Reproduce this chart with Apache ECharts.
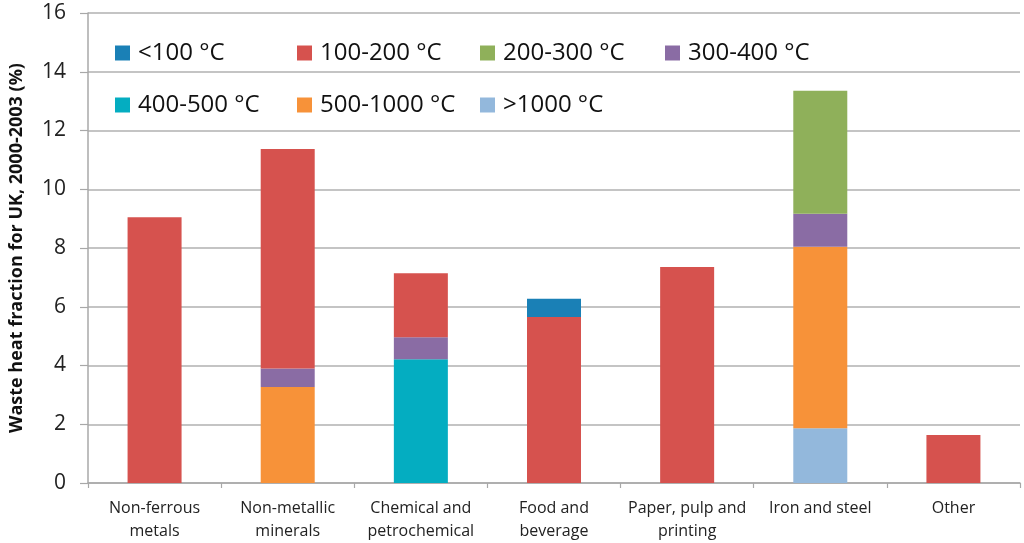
<!DOCTYPE html>
<html><head><meta charset="utf-8">
<script src="https://cdn.jsdelivr.net/npm/echarts@6/dist/echarts.min.js"></script>
<style>html,body{margin:0;padding:0;background:#fff}#c{width:1024px;height:543px}</style>
</head><body><div id="c"></div>
<script>
const categories = ['Non-ferrous\nmetals','Non-metallic\nminerals','Chemical and\npetrochemical','Food and\nbeverage','Paper, pulp and\nprinting','Iron and steel','Other'];
const yTicks = [0,2,4,6,8,10,12,14,16];
// stacking order bottom -> top
const above1000 = [0, 0, 0, 0, 0, 1.86, 0];
const t500_1000 = [0, 3.27, 0, 0, 0, 6.18, 0];
const t400_500  = [0, 0, 4.21, 0, 0, 0, 0];
const t300_400  = [0, 0.63, 0.75, 0, 0, 1.13, 0];
const t200_300  = [0, 0, 0, 0, 0, 4.18, 0];
const t100_200  = [9.05, 7.47, 2.18, 5.65, 7.35, 0, 1.63];
const below100  = [0, 0, 0, 0.62, 0, 0, 0];

const seriesDefs = [
  {name: '>1000 °C', data: above1000, color: '#93b8dc'},
  {name: '500-1000 °C', data: t500_1000, color: '#f79239'},
  {name: '400-500 °C', data: t400_500, color: '#04adc1'},
  {name: '300-400 °C', data: t300_400, color: '#8a6ca4'},
  {name: '200-300 °C', data: t200_300, color: '#8fb05a'},
  {name: '100-200 °C', data: t100_200, color: '#d6524e'},
  {name: '<100 °C', data: below100, color: '#1a80b6'}
];
const legendPos = {
  '<100 °C': [115, 41], '100-200 °C': [297, 41], '200-300 °C': [480, 41], '300-400 °C': [665, 41],
  '400-500 °C': [115, 93], '500-1000 °C': [297, 93], '>1000 °C': [480, 93]
};
const FONT = '"Open Sans", sans-serif';
const chart = echarts.init(document.getElementById('c'), null, {renderer: 'canvas'});
const legends = Object.keys(legendPos).map(n => ({
  data: [n], left: legendPos[n][0], top: legendPos[n][1],
  itemWidth: 15, itemHeight: 15, icon: 'rect', padding: 0, itemGap: 0,
  selectedMode: false,
  textStyle: {fontFamily: FONT, fontSize: 24, color: '#111', padding: [0, 0, 0, 3]}
}));
chart.setOption({
  animation: false,
  backgroundColor: '#fff',
  legend: legends,
  grid: {left: 86, right: 4, top: 13, bottom: 58, containLabel: false},
  xAxis: {
    type: 'category', data: categories,
    axisLine: {lineStyle: {color: '#a8a8a8', width: 1.5}},
    axisTick: {show: true, length: 5, lineStyle: {color: '#a8a8a8', width: 1.2}},
    axisLabel: {fontFamily: FONT, fontSize: 16, color: '#222', lineHeight: 23, margin: 14, interval: 0}
  },
  yAxis: {
    type: 'value', min: yTicks[0], max: yTicks[yTicks.length-1], interval: 2,
    name: 'Waste heat fraction for UK, 2000-2003 (%)', nameLocation: 'middle', nameGap: 62, nameRotate: 90,
    nameTextStyle: {fontFamily: FONT, fontSize: 18, fontWeight: 'bold', color: '#111'},
    axisLine: {show: true, lineStyle: {color: '#a8a8a8', width: 1.5}},
    axisTick: {show: true, length: 8, lineStyle: {color: '#a8a8a8', width: 1.2}},
    axisLabel: {fontFamily: FONT, fontSize: 21, color: '#222', margin: 22},
    splitLine: {lineStyle: {color: '#b0b0b0', width: 1.5}}
  },
  series: seriesDefs.map(s => ({
    name: s.name, type: 'bar', stack: 'all', data: s.data, barWidth: 54,
    itemStyle: {color: s.color}
  }))
});
</script></body></html>
